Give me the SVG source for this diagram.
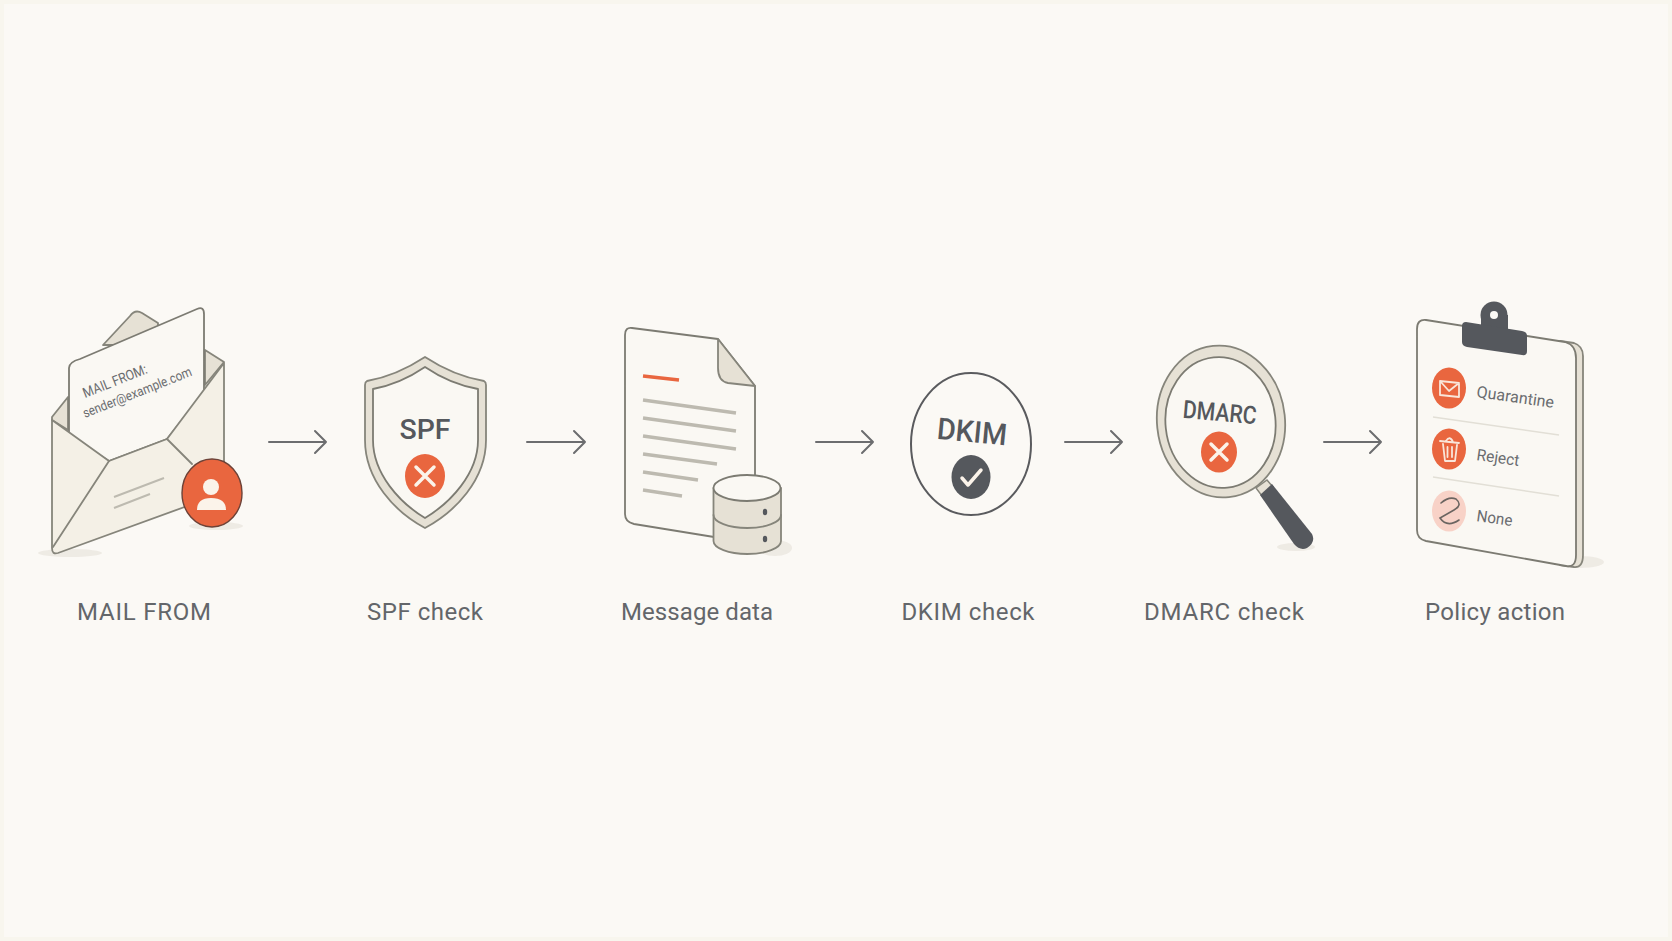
<svg xmlns="http://www.w3.org/2000/svg" width="1672" height="941" viewBox="0 0 1672 941">
<defs>
<style>
.lb{font-family:Roboto,"Liberation Sans",sans-serif;font-size:24px;fill:#63666a;text-anchor:middle}
.t{font-family:Roboto,"Liberation Sans",sans-serif;fill:#55585d;font-weight:500;text-anchor:middle}
.s{fill:#f4f0e6;stroke:#86857b;stroke-width:1.8;stroke-linejoin:round;stroke-linecap:round}
.p{fill:#faf8f3;stroke:#7c7b72;stroke-width:1.8;stroke-linejoin:round;stroke-linecap:round}
.d{fill:#e6e1d5;stroke:#86857b;stroke-width:1.8;stroke-linejoin:round;stroke-linecap:round}
.ln{fill:none;stroke:#86857b;stroke-width:1.8;stroke-linecap:round;stroke-linejoin:round}
.g{fill:none;stroke:#bdbab0;stroke-width:3.5}
.o{fill:#e9663f}
.x{fill:none;stroke:#fbf3ea;stroke-width:3.5;stroke-linecap:round;stroke-linejoin:round}
.i{fill:none;stroke:#f9e6da;stroke-width:1.8;stroke-linejoin:round;stroke-linecap:round}
.a{fill:none;stroke:#6c6d6f;stroke-width:2;stroke-linecap:round;stroke-linejoin:round}
.sh{fill:#e6e1d8;opacity:.6}
.sm{font-family:Roboto,"Liberation Sans",sans-serif;fill:#6a6c6f}
</style>
</defs>
<rect width="1672" height="941" fill="#fbf9f5"/>
<rect x="2" y="2" width="1668" height="937" fill="none" stroke="#f8f6ee" stroke-width="4"/>
<g id="connectors">
<path class="a" d="M269 442H326M315 431L326 442L315 453"/>
<path class="a" d="M527 442H585M574 431L585 442L574 453"/>
<path class="a" d="M816 442H873M862 431L873 442L862 453"/>
<path class="a" d="M1065 442H1122M1111 431L1122 442L1111 453"/>
<path class="a" d="M1324 442H1381M1370 431L1381 442L1370 453"/>
</g>
<g id="mail-from">
<ellipse class="sh" cx="70" cy="553" rx="32" ry="4"/>
<ellipse class="sh" cx="216" cy="526" rx="27" ry="4"/>
<path class="d" d="M103 345L130 316Q135 309 142 313L158 323V345Z"/>
<path class="d" d="M52 417L68 397V430L52 420Z"/>
<path class="d" d="M205 350L224 362L205 385Z"/>
<path class="p" d="M80 359L197 309Q204 306 204 314V392L167 439L109 461L69 436V368Q69 362 80 359Z"/>
<text class="sm" font-size="14" transform="translate(85 398) rotate(-21.6)" textLength="68" lengthAdjust="spacingAndGlyphs">MAIL FROM:</text>
<text class="sm" font-size="13.5" transform="translate(85 418) rotate(-21.6)" textLength="116" lengthAdjust="spacingAndGlyphs">sender@example.com</text>
<path class="s" d="M52 420L109 461L167 439L224 363V470L190 505L58 553Q52 555 52 548Z"/>
<path class="ln" d="M109 461L53 547M167 439L192 464"/>
<path class="g" style="stroke-width:2" d="M114 497L164 478M114 508L150 494"/>
<ellipse class="o" cx="212" cy="493" rx="30" ry="34" stroke="#6d4237" stroke-width="1.4"/>
<circle cx="211" cy="487" r="8" fill="#fbf3ea"/>
<path d="M197 510Q197 498 211 498Q226 498 226 510Z" fill="#fbf3ea"/>
</g>
<text class="lb" x="144" y="620" textLength="134">MAIL FROM</text>
<g id="spf-check">
<path class="d" d="M425 357Q396 376 367 381Q365 382 365 385V440C365 480 395 512 425 528C455 512 486 480 486 440V385Q486 382 484 381Q454 376 425 357Z"/>
<path class="p" d="M425 367Q400 384 373 389V440C373 474 400 503 425 518C450 503 478 474 478 440V389Q450 384 425 367Z"/>
<text class="t" x="425" y="439" font-size="28" textLength="51" lengthAdjust="spacingAndGlyphs">SPF</text>
<ellipse class="o" cx="425" cy="476" rx="20" ry="22"/>
<path class="x" d="M416 467L434 485M434 467L416 485"/>
</g>
<text class="lb" x="425" y="620" textLength="116">SPF check</text>
<g id="message-data">
<ellipse class="sh" cx="775" cy="548" rx="17" ry="8"/>
<path class="p" d="M632 328L718 339L755 386V530L714 537L634 524Q625 522 625 514V335Q625 327 632 328Z"/>
<path class="d" d="M718 339V368Q718 381 728 383L755 386Z"/>
<path d="M643 376L679 380" fill="none" stroke="#e9663f" stroke-width="3.5"/>
<path class="g" d="M643 400L736 413M643 418L736 431M643 436L736 449M643 454L717 464M643 472L698 480M643 490L682 496"/>
<path class="d" d="M713.5 488V541A33.7 13 0 0 0 781 541V488Z"/>
<ellipse class="p" cx="747" cy="488" rx="33.5" ry="13"/>
<path class="ln" d="M713.5 515A33.7 13 0 0 0 781 515"/>
<ellipse cx="765" cy="512" rx="2.2" ry="3.2" fill="#55585d"/>
<ellipse cx="765" cy="539" rx="2.2" ry="3.2" fill="#55585d"/>
</g>
<text class="lb" x="697" y="620" textLength="152">Message data</text>
<g id="dkim-check">
<ellipse cx="971" cy="444" rx="60" ry="71" fill="#fbf9f5" stroke="#5a5b5e" stroke-width="2"/>
<text class="t" font-size="30" transform="translate(971 442) rotate(5.5)" textLength="70" lengthAdjust="spacingAndGlyphs">DKIM</text>
<ellipse cx="971" cy="477" rx="19.5" ry="22" fill="#55585d"/>
<path class="x" d="M962 478L968 485L981 470"/>
</g>
<text class="lb" x="968" y="620" textLength="133">DKIM check</text>
<g id="dmarc-check">
<ellipse class="d" cx="1221" cy="421.5" rx="64" ry="76" transform="rotate(-6 1221 421.5)"/>
<ellipse class="p" cx="1220.5" cy="422.5" rx="55" ry="65.5" transform="rotate(-6 1220.5 422.5)"/>
<text class="t" font-size="25" transform="translate(1219 421) rotate(5)" textLength="74" lengthAdjust="spacingAndGlyphs">DMARC</text>
<ellipse class="o" cx="1219" cy="452" rx="18" ry="20.5"/>
<path class="x" d="M1211 444L1227 460M1227 444L1211 460"/>
<ellipse class="sh" cx="1296" cy="547" rx="19" ry="4"/>
<path d="M1256 488L1267 480L1273 487L1262 496Z" fill="#e6e1d5" stroke="#86857b" stroke-width="1.5"/>
<path d="M1260 495L1272 484L1312 534Q1316 542 1307 548Q1300 551 1294 544Z" fill="#55585d"/>
</g>
<text class="lb" x="1224" y="620" textLength="160">DMARC check</text>
<g id="policy-action">
<ellipse class="sh" cx="1580" cy="562" rx="24" ry="6"/>
<path class="d" d="M1560 341L1574 343Q1583 346 1583 356V555Q1583 568 1574 567L1560 565Z"/>
<path class="p" d="M1426 320L1565 342Q1576 345 1576 358V555Q1576 568 1566 566L1426 541Q1417 539 1417 530V329Q1417 319 1426 320Z"/>
<circle cx="1494" cy="315" r="13.5" fill="#55585d"/>
<path d="M1481 315H1508V332H1481Z" fill="#55585d"/>
<path d="M1466 322L1522 331Q1527 332 1527 336V351Q1527 356 1522 355L1467 347Q1462 346 1462 342V326Q1462 322 1466 322Z" fill="#55585d"/>
<circle cx="1494" cy="315" r="4" fill="#fbf9f5"/>
<path d="M1433 417L1559 435M1433 477L1559 496" stroke="#e2dfd6" stroke-width="1.5" fill="none"/>
<ellipse class="o" cx="1449" cy="388" rx="17" ry="20.5"/>
<path class="i" d="M1440 381L1459 383V397L1440 395ZM1440 381L1449 391L1459 383"/>
<text class="sm" font-size="16" transform="translate(1476 397) rotate(8)" textLength="78" lengthAdjust="spacingAndGlyphs">Quarantine</text>
<ellipse class="o" cx="1449" cy="449" rx="17" ry="20.5"/>
<path class="i" d="M1440 441L1459 443M1446 441Q1450 435 1453 442M1443 444L1445 461H1455L1457 445M1447.5 447V457M1452 447V457"/>
<text class="sm" font-size="16" transform="translate(1476 460) rotate(8)" textLength="43" lengthAdjust="spacingAndGlyphs">Reject</text>
<ellipse cx="1449" cy="511" rx="17" ry="20.5" fill="#f8d2c7"/>
<path d="M1441 503Q1449 496 1456 499Q1463 505 1454 510L1440 518Q1447 528 1459 520" fill="none" stroke="#6b6460" stroke-width="1.6" stroke-linecap="round"/>
<text class="sm" font-size="16" transform="translate(1476 521) rotate(8)" textLength="36" lengthAdjust="spacingAndGlyphs">None</text>
</g>
<text class="lb" x="1495" y="620" textLength="140">Policy action</text>
</svg>
